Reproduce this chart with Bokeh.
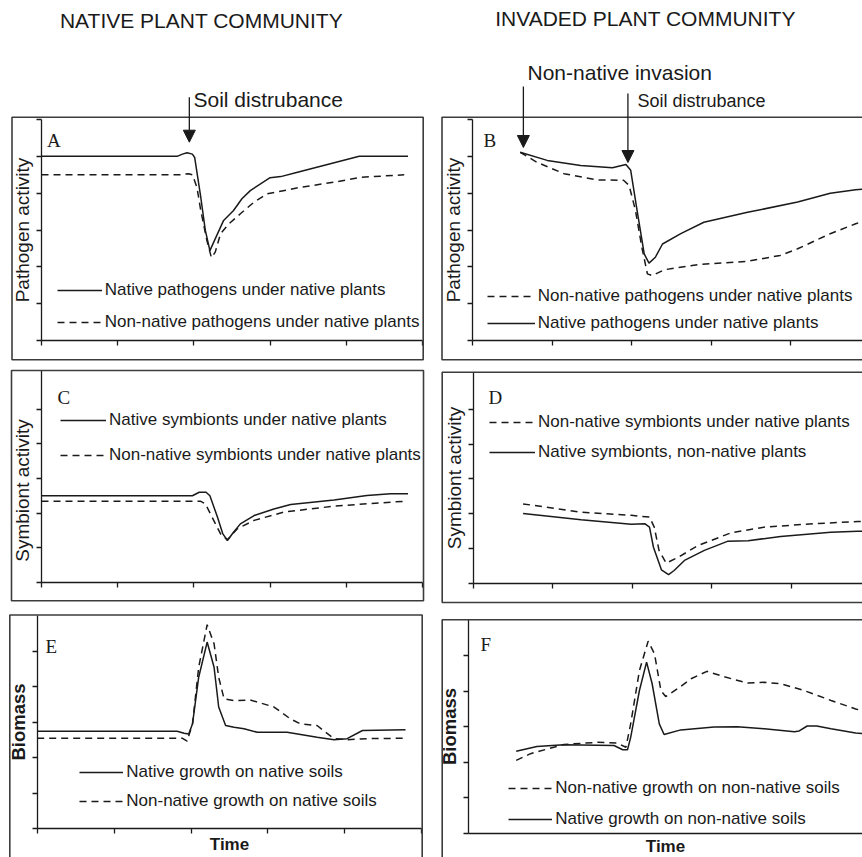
from bokeh.plotting import figure
from bokeh.models import (Range1d, FixedTicker, Label, Arrow, NormalHead, BoxAnnotation,
                          Legend, LegendItem, CustomJSTickFormatter, LinearAxis)
from bokeh.layouts import row, column
from bokeh.embed import file_html
from bokeh.resources import INLINE

# ---------------------------------------------------------------- data
# Panel A  (native community, pathogen activity)
a_native_t = [0, 1.78, 1.85, 1.91, 1.98, 2.01, 2.09, 2.15, 2.21, 2.26, 2.39, 2.52, 2.63, 2.74, 3.0, 3.14, 3.36, 4.17, 4.81]
a_native_v = [5.0, 5.0, 5.06, 5.1, 5.06, 4.97, 3.89, 2.99, 2.44, 2.67, 3.26, 3.53, 3.85, 4.07, 4.42, 4.45, 4.57, 5.0, 5.0]
a_nonnat_t = [0, 1.82, 1.93, 1.98, 2.04, 2.09, 2.17, 2.23, 2.28, 2.35, 2.46, 2.61, 2.79, 2.96, 3.40, 3.84, 4.19, 4.76]
a_nonnat_v = [4.5, 4.5, 4.53, 4.5, 4.16, 3.53, 2.72, 2.25, 2.4, 2.9, 3.17, 3.44, 3.76, 3.98, 4.16, 4.3, 4.43, 4.5]

# Panel B  (invaded community, pathogen activity)
b_native_t = [0.60, 0.94, 1.36, 1.76, 1.93, 1.99, 2.07, 2.16, 2.22, 2.30, 2.39, 2.62, 2.91, 3.46, 4.09, 4.50, 4.82, 4.95]
b_native_v = [5.11, 4.89, 4.75, 4.69, 4.78, 4.62, 3.53, 2.35, 2.10, 2.26, 2.62, 2.90, 3.21, 3.48, 3.76, 4.00, 4.09, 4.12]
b_nonnat_t = [0.60, 0.81, 1.15, 1.57, 1.90, 1.97, 2.05, 2.13, 2.20, 2.26, 2.41, 2.83, 3.46, 3.87, 4.09, 4.50, 4.82, 4.95]
b_nonnat_v = [5.11, 4.84, 4.53, 4.36, 4.35, 4.21, 3.53, 2.53, 1.81, 1.76, 1.92, 2.06, 2.15, 2.31, 2.49, 2.90, 3.17, 3.27]

# Panel C  (native community, symbiont activity)
c_native_t = [0, 1.98, 2.07, 2.16, 2.21, 2.31, 2.38, 2.44, 2.52, 2.61, 2.79, 3.05, 3.27, 3.84, 4.27, 4.58, 4.81]
c_native_v = [2.5, 2.5, 2.6, 2.6, 2.5, 1.88, 1.40, 1.21, 1.45, 1.69, 1.93, 2.12, 2.25, 2.38, 2.51, 2.56, 2.56]
c_nonnat_t = [0, 2.09, 2.15, 2.26, 2.35, 2.44, 2.57, 2.79, 3.18, 3.84, 4.27, 4.76]
c_nonnat_v = [2.34, 2.34, 2.27, 1.79, 1.40, 1.23, 1.55, 1.79, 2.03, 2.20, 2.27, 2.34]

# Panel D  (invaded community, symbiont activity)
d_nonnat_t = [0.63, 1.36, 1.99, 2.22, 2.28, 2.34, 2.43, 2.58, 2.83, 3.25, 3.66, 4.29, 4.84, 4.95]
d_nonnat_v = [2.28, 2.04, 1.95, 1.90, 1.61, 0.94, 0.57, 0.74, 1.08, 1.45, 1.61, 1.71, 1.77, 1.78]
d_native_t = [0.63, 1.36, 1.99, 2.16, 2.22, 2.27, 2.37, 2.46, 2.53, 2.66, 2.91, 3.20, 3.46, 3.87, 4.50, 4.84, 4.95]
d_native_v = [2.0, 1.82, 1.69, 1.71, 1.61, 1.03, 0.38, 0.24, 0.36, 0.65, 0.94, 1.20, 1.22, 1.34, 1.46, 1.49, 1.50]

# Panel E  (native community, biomass)
e_native_t = [0, 1.82, 1.91, 1.97, 2.02, 2.10, 2.21, 2.30, 2.36, 2.45, 2.56, 2.69, 2.86, 3.25, 3.64, 3.86, 4.03, 4.23, 4.79]
e_native_v = [2.75, 2.75, 2.69, 2.67, 2.96, 4.27, 5.26, 4.55, 3.43, 2.91, 2.86, 2.82, 2.72, 2.72, 2.58, 2.51, 2.54, 2.77, 2.79]
e_nonnat_t = [0, 1.89, 1.95, 2.02, 2.10, 2.21, 2.30, 2.36, 2.43, 2.56, 2.77, 3.08, 3.29, 3.42, 3.64, 3.75, 3.86, 4.03, 4.29, 4.77]
e_nonnat_v = [2.55, 2.55, 2.47, 2.96, 4.55, 5.75, 5.21, 4.27, 3.66, 3.61, 3.63, 3.43, 3.10, 2.96, 2.91, 2.72, 2.54, 2.51, 2.54, 2.55]

# Panel F  (invaded community, biomass)
f_nonnat_t = [0.60, 0.78, 1.20, 1.62, 1.87, 1.98, 2.04, 2.15, 2.26, 2.34, 2.42, 2.48, 2.63, 2.80, 3.00, 3.21, 3.51, 3.72, 3.93, 4.22, 4.56, 4.87, 4.95]
f_nonnat_v = [2.05, 2.24, 2.50, 2.56, 2.54, 2.42, 3.08, 4.58, 5.41, 5.05, 4.02, 3.85, 4.07, 4.35, 4.56, 4.41, 4.23, 4.25, 4.21, 4.02, 3.74, 3.50, 3.45]
f_native_t = [0.60, 0.86, 1.20, 1.83, 1.94, 2.00, 2.04, 2.15, 2.24, 2.31, 2.40, 2.46, 2.67, 3.09, 3.38, 3.72, 4.10, 4.16, 4.26, 4.38, 4.56, 4.87, 4.95]
f_native_v = [2.31, 2.44, 2.49, 2.47, 2.35, 2.35, 2.70, 4.02, 4.82, 4.21, 3.08, 2.78, 2.91, 2.99, 3.00, 2.94, 2.86, 2.88, 3.02, 3.02, 2.94, 2.82, 2.81]

time_ticks = [0, 1, 2, 3, 4, 5]
level_ticks_full = [0, 1, 2, 3, 4, 5, 6]
level_ticks = [0, 1, 2, 3, 4, 5]
event_soil = 1.94          # soil disturbance (time units)
event_soil_b = 1.955
event_invasion = 0.64      # non-native invasion (time units)

# ---------------------------------------------------------------- styles
SANS = "Liberation Sans"
SERIF = "Liberation Serif"
INK = "#1a1a1a"
BOX = "#3c3c3c"
DASH = "7 5"


def style_label(ax, text, size, style, standoff):
    ax.axis_label = text
    ax.axis_label_text_font = SANS
    ax.axis_label_text_font_size = size
    ax.axis_label_text_font_style = style
    ax.axis_label_text_color = INK
    ax.axis_label_standoff = standoff


def build(g, curves, leg, ylabel, ylabel_size, ylabel_style, ylabel_standoff, letter,
          yticks, xticks=True, xlabel=None, xlabel_standoff=1, texts=(), arrows=(),
          label_span=None):
    cx, cy, W, H = g["canvas"]
    ox, oy = g["origin"]
    sx, sy = g["scale"]

    def X(px):
        return (px - ox) / sx

    def Y(py):
        return (oy - py) / sy

    p = figure(width=W, height=H, x_range=Range1d(X(cx), X(cx + W)),
               y_range=Range1d(Y(cy + H), Y(cy)), output_backend="svg",
               toolbar_location=None, title=None,
               min_border_left=0, min_border_right=0, min_border_top=0, min_border_bottom=0,
               outline_line_color=None, background_fill_color="white",
               border_fill_color="white")
    p.grid.visible = False

    # panel frame
    bx0, by0, bx1, by1 = g["box"]
    p.add_layout(BoxAnnotation(left=X(bx0), right=X(bx1), top=Y(by0), bottom=Y(by1),
                               fill_color=None, fill_alpha=0, line_color=BOX,
                               line_alpha=1, line_width=1.6))

    renderers = {}
    for key, xs, ys, dash in curves:
        renderers[key] = p.line(xs, ys, line_color=INK, line_width=1.5, line_dash=dash)

    xa = p.xaxis[0]
    ya = p.yaxis[0]
    for ax in (xa, ya):
        ax.fixed_location = 0
        ax.axis_line_color = INK
        ax.axis_line_width = 1.3
        ax.major_tick_line_color = INK
        ax.major_tick_line_width = 1.3
        ax.major_tick_in = 0
        ax.major_tick_out = 5
        ax.minor_tick_in = 0
        ax.minor_tick_out = 0
        ax.formatter = CustomJSTickFormatter(code="return ''")
        ax.major_label_standoff = 0
    xa.ticker = FixedTicker(ticks=time_ticks)
    xa.bounds = (0, 5)
    if not xticks:
        xa.major_tick_out = 0
    ya.ticker = FixedTicker(ticks=yticks)
    ya.bounds = (0, g["ytop"] if g.get("ytop") is not None else Y(by0))
    if label_span is None:
        style_label(ya, ylabel, ylabel_size, ylabel_style, ylabel_standoff)
    else:
        # label-only axis, so that the title can sit lower than the axis midpoint
        la = LinearAxis(fixed_location=0, bounds=label_span, axis_line_color=None,
                        major_tick_out=0, major_tick_in=0, minor_tick_out=0,
                        minor_tick_in=0, ticker=FixedTicker(ticks=[]),
                        formatter=CustomJSTickFormatter(code="return ''"),
                        major_label_standoff=0)
        style_label(la, ylabel, ylabel_size, ylabel_style, ylabel_standoff + 5)
        p.add_layout(la, "left")
    if xlabel:
        style_label(xa, xlabel, "17px", "bold", xlabel_standoff)

    # legend
    ih = 20
    spacing = int(round(leg["pitch"] - ih))
    top = leg["y1"] - ih / 2
    bottom = top + 2 * ih + spacing
    items = [LegendItem(label=lab, renderers=[renderers[k]]) for k, lab in leg["items"]]
    legend = Legend(items=items, location=(leg["x"] - cx, (cy + H) - bottom),
                    orientation="vertical", padding=0, margin=0, spacing=spacing,
                    glyph_width=int(leg["gw"]), glyph_height=ih, label_height=ih,
                    label_standoff=3, label_text_font=SANS, label_text_font_size="17px",
                    label_text_color=INK, border_line_color=None,
                    background_fill_alpha=0)
    p.add_layout(legend)

    lx, ly = g["letter"]
    p.add_layout(Label(x=X(lx), y=Y(ly), text=letter, text_font=SERIF,
                       text_font_size="19px", text_color=INK,
                       text_align="left", text_baseline="middle"))

    for px, py, txt, size, align in texts:
        p.add_layout(Label(x=X(px), y=Y(py), text=txt, text_font=SANS,
                           text_font_size=size, text_color=INK,
                           text_align=align, text_baseline="middle"))
    for tx, py0, py1 in arrows:
        p.add_layout(Arrow(x_start=tx, y_start=Y(py0), x_end=tx, y_end=Y(py1),
                           line_color=INK, line_width=1.3,
                           end=NormalHead(size=12, fill_color=INK, line_color=INK,
                                          line_width=1)))
    return p


# page-pixel geometry of each panel: canvas (x, y, w, h), axis origin, px per unit, frame box
GEOM = {
    "A": dict(canvas=(0, 0, 432, 364), origin=(41, 340), scale=(76.2, 36.83),
              box=(11.5, 116.7, 422.7, 359.3), letter=(46.5, 140), ytop=6),
    "B": dict(canvas=(432, 0, 430, 364), origin=(472, 340), scale=(79.5, 36.83),
              box=(441.5, 116.7, 900, 359.3), letter=(483, 140), ytop=6),
    "C": dict(canvas=(0, 364, 432, 243), origin=(41, 582), scale=(76.2, 34.7),
              box=(11, 370, 423, 600.3), letter=(57, 397)),
    "D": dict(canvas=(432, 364, 430, 243), origin=(472.5, 582.5), scale=(79.5, 34.7),
              box=(441.7, 371.7, 900, 602), letter=(488, 397)),
    "E": dict(canvas=(0, 607, 432, 250), origin=(36.7, 828.3), scale=(76.9, 35.5),
              box=(9.3, 614.5, 421.7, 900), letter=(45, 646)),
    "F": dict(canvas=(432, 607, 430, 250), origin=(468, 832.7), scale=(79.5, 35.5),
              box=(441.7, 619.3, 900, 900), letter=(480, 644)),
}

pA = build(GEOM["A"],
           [("n", a_native_t, a_native_v, "solid"), ("x", a_nonnat_t, a_nonnat_v, DASH)],
           dict(x=56.7, y1=290, pitch=32, gw=45,
                items=[("n", "Native pathogens under native plants"),
                       ("x", "Non-native pathogens under native plants")]),
           "Pathogen activity", "19px", "normal", 4, "A", level_ticks_full,
           texts=[(201, 19.5, "NATIVE PLANT COMMUNITY", "21px", "center"),
                  (193, 99, "Soil distrubance", "21px", "left")],
           arrows=[(event_soil, 96.7, 141.7)])

pB = build(GEOM["B"],
           [("n", b_native_t, b_native_v, "solid"), ("x", b_nonnat_t, b_nonnat_v, DASH)],
           dict(x=486.7, y1=296, pitch=27, gw=48,
                items=[("x", "Non-native pathogens under native plants"),
                       ("n", "Native pathogens under native plants")]),
           "Pathogen activity", "19px", "normal", 4, "B", level_ticks_full,
           texts=[(645, 18, "INVADED PLANT COMMUNITY", "21px", "center"),
                  (527, 72, "Non-native invasion", "21px", "left"),
                  (637, 100, "Soil distrubance", "18px", "left")],
           arrows=[(event_invasion, 86, 147), (event_soil_b, 93, 162)])

pC = build(GEOM["C"],
           [("n", c_native_t, c_native_v, "solid"), ("x", c_nonnat_t, c_nonnat_v, DASH)],
           dict(x=60, y1=420, pitch=35, gw=46,
                items=[("n", "Native symbionts under native plants"),
                       ("x", "Non-native symbionts under native plants")]),
           "Symbiont activity", "19px", "normal", 4, "C", level_ticks,
           label_span=(0, 5.3))

pD = build(GEOM["D"],
           [("n", d_native_t, d_native_v, "solid"), ("x", d_nonnat_t, d_nonnat_v, DASH)],
           dict(x=489, y1=421.7, pitch=30, gw=46,
                items=[("x", "Non-native symbionts under native plants"),
                       ("n", "Native symbionts, non-native plants")]),
           "Symbiont activity", "19px", "normal", 4, "D", level_ticks)

pE = build(GEOM["E"],
           [("n", e_native_t, e_native_v, "solid"), ("x", e_nonnat_t, e_nonnat_v, DASH)],
           dict(x=79.3, y1=771.7, pitch=29, gw=44,
                items=[("n", "Native growth on native soils"),
                       ("x", "Non-native growth on native soils")]),
           "Biomass", "18.5px", "bold", 4, "E", level_ticks, xlabel="Time", xlabel_standoff=1)

pF = build(GEOM["F"],
           [("n", f_native_t, f_native_v, "solid"), ("x", f_nonnat_t, f_nonnat_v, DASH)],
           dict(x=508.3, y1=788.3, pitch=31, gw=44,
                items=[("x", "Non-native growth on non-native soils"),
                       ("n", "Native growth on non-native soils")]),
           "Biomass", "18.5px", "bold", 4, "F", level_ticks, xticks=False,
           xlabel="Time", xlabel_standoff=3)

layout = column(row(pA, pB), row(pC, pD), row(pE, pF))

open("out.html", "w").write(file_html(layout, INLINE))
